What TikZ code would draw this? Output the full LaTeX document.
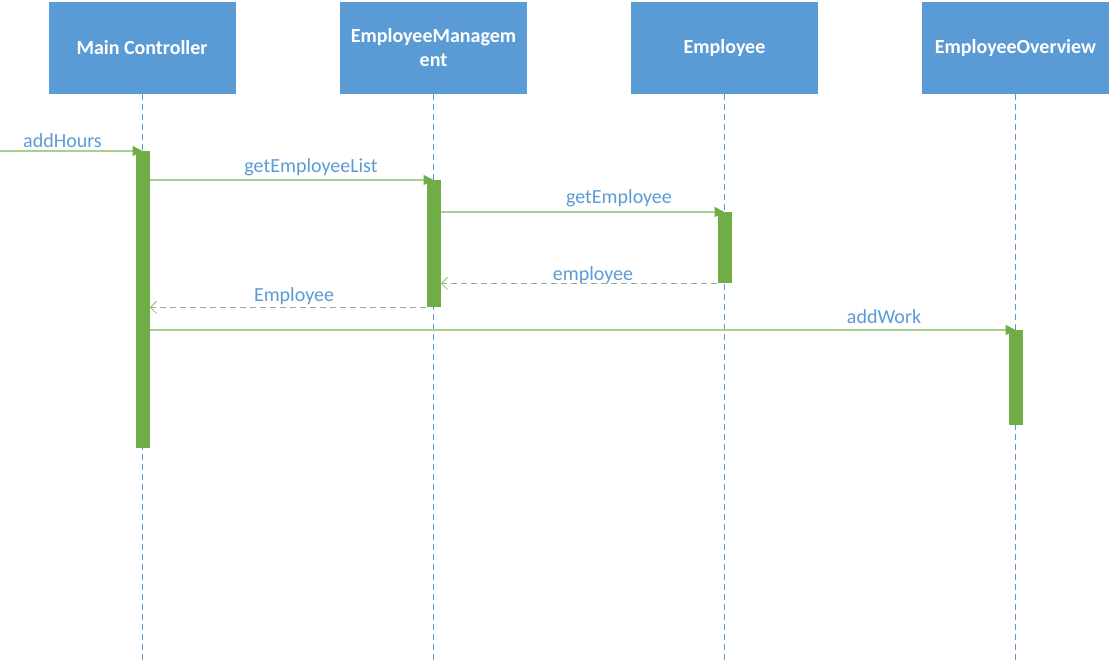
\documentclass[tikz,border=0pt]{standalone}
\usepackage{fontspec}
\setmainfont{Carlito}
\usetikzlibrary{arrows.meta}
\definecolor{hdblue}{HTML}{5B9BD5}
\definecolor{lblblue}{HTML}{5B9BD5}
\definecolor{bargreen}{HTML}{70AD47}
\definecolor{msggreen}{HTML}{A9D18E}
\definecolor{retgray}{HTML}{9AA896}
\pgfdeclarelayer{bg}
\pgfdeclarelayer{mid}
\pgfsetlayers{bg,mid,main}
\tikzset{
  head/.style={fill=hdblue, draw=none, minimum width=187pt, minimum height=92pt,
    text=white, font=\fontsize{20}{24}\selectfont\bfseries, align=center, inner sep=0pt},
  lifeline/.style={draw=hdblue, line width=1pt, dash pattern=on 6pt off 4pt},
  actbar/.style={fill=bargreen, draw=none, minimum width=14pt, inner sep=0pt, anchor=north},
  msg/.style={draw=msggreen, line width=1.5pt, -{Triangle[length=10pt,width=10pt,fill=bargreen,color=bargreen]}},
  ret/.style={draw=retgray, line width=1.2pt, dash pattern=on 6pt off 4pt,
    -{Straight Barb[length=6pt,width=12pt,line width=1pt,color=bargreen!70]}},
  lbl/.style={text=lblblue, font=\fontsize{20}{24}\selectfont, anchor=base, inner sep=0pt},
}
\begin{document}
\begin{tikzpicture}[x=1pt,y=-1pt]
\useasboundingbox (0,0) rectangle (1111,662);
% headers
\node[head] (mc) at (142,48) {Main Controller};
\node[head] (em) at (433.5,48) {EmployeeManagem\\ent};
\node[head] (emp) at (724.5,48) {Employee};
\node[head] (eo) at (1015.5,48) {EmployeeOverview};
% lifelines
\coordinate (mcend) at (142,662);
\coordinate (emend) at (433,662);
\coordinate (empend) at (724,662);
\coordinate (eoend) at (1015,662);
\begin{pgfonlayer}{bg}
\draw[lifeline] (mc.south -| mcend) -- (mcend);
\draw[lifeline] (em.south -| emend) -- (emend);
\draw[lifeline] (emp.south -| empend) -- (empend);
\draw[lifeline] (eo.south -| eoend) -- (eoend);
\end{pgfonlayer}
% activation bars
\node[actbar, minimum height=297pt] (b1) at (142.5,151) {};
\node[actbar, minimum height=127pt] (b2) at (433.5,180) {};
\node[actbar, minimum height=71pt] (b3) at (724.5,212) {};
\node[actbar, minimum height=95pt] (b4) at (1015.5,330) {};
% messages
\coordinate (src) at (0,151);
\begin{pgfonlayer}{mid}
\draw[msg] (src) -- (b1.north);
\draw[msg] (b1.east |- b2.north) -- (b2.north);
\draw[msg] (b2.east |- b3.north) -- (b3.north);
\draw[ret] (b3.south west) -- (b2.east |- b3.south);
\draw[ret] (b2.south west) -- (b1.east |- b2.south);
\draw[msg] (b1.east |- b4.north) -- (b4.north);
\end{pgfonlayer}
% labels
\node[lbl] (l1) at (62.5,147) {addHours};
\node[lbl] (l2) at (311,172.5) {getEmployeeList};
\node[lbl] (l3) at (619,203) {getEmployee};
\node[lbl] (l4) at (593,280) {employee};
\node[lbl] (l5) at (294,301) {Employee};
\node[lbl] (l6) at (884,323) {addWork};
\end{tikzpicture}
\end{document}
